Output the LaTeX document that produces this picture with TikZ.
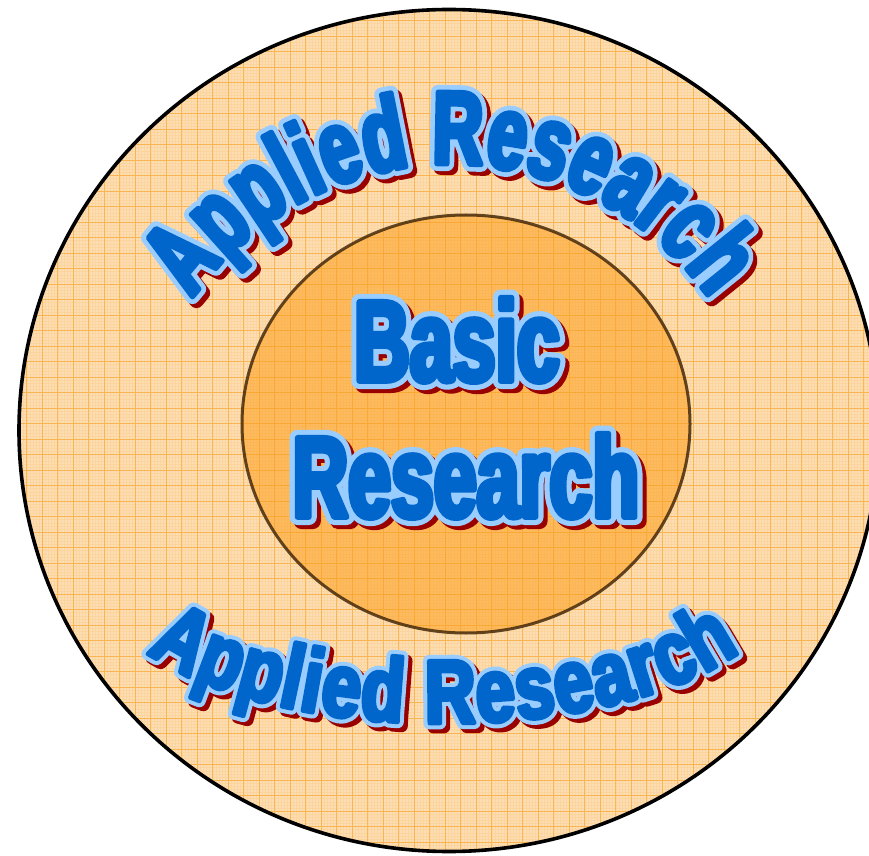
\documentclass[tikz,border=0pt]{standalone}
\usepackage{fontspec}
\usetikzlibrary{decorations.text}
\definecolor{wablue}{RGB}{0,102,204}
\definecolor{walight}{RGB}{153,204,255}
\definecolor{wared}{RGB}{153,0,0}
\definecolor{outerfill}{RGB}{253,222,180}
\definecolor{innerfill}{RGB}{253,186,95}
\definecolor{gridmaj}{RGB}{248,160,30}
\definecolor{innerline}{RGB}{70,42,10}
\newfontfamily\ctrFillF{Liberation Sans Bold}[FakeStretch=0.67,FakeBold=5]
\newfontfamily\ctrLineF{Liberation Sans Bold}[FakeStretch=0.67,FakeBold=14]
\newfontfamily\botFillF{Liberation Sans Bold}[FakeStretch=0.78,FakeBold=5]
\newfontfamily\botLineF{Liberation Sans Bold}[FakeStretch=0.78,FakeBold=14]
\newcommand\ctrFill{\pgfsetroundjoin\ctrFillF}
\newcommand\ctrLine{\pgfsetroundjoin\ctrLineF}
\newcommand\botFill{\pgfsetroundjoin\botFillF}
\newcommand\botLine{\pgfsetroundjoin\botLineF}
\tikzset{
  walayer/.style={anchor=base, inner sep=0pt, outer sep=0pt, line join=round},
  wbig/.style={font=#1\fontsize{115}{115}\selectfont},
  majorgrid/.style={draw=gridmaj, line width=0.9pt, opacity=0.6},
  minorgrid/.style={draw=gridmaj, line width=0.3pt, opacity=0.14},
  outerring/.style={draw=black, line width=3.6pt},
  innerring/.style={draw=innerline, line width=3pt, draw opacity=0.85},
  arctext/.style={decorate, line join=round},
}
\begin{document}
\begin{tikzpicture}[x=1pt,y=1pt]
\useasboundingbox (0,0) rectangle (869,855);
\clip (0,0) rectangle (869,855);
% fills and grid
\begin{scope}
  \clip (449,424.5) ellipse [x radius=430, y radius=421];
  \fill[outerfill] (0,0) rectangle (900,900);
  \fill[innerfill] (466,431) ellipse [x radius=224, y radius=209];
  \begin{scope}[shift={(11.2,13)}]
    \draw[minorgrid] (-31,-31) grid[step=3.1] (900,900);
    \draw[majorgrid] (-31,-31) grid[step=15.5] (900,900);
  \end{scope}
\end{scope}
\draw[outerring] (449,424.5) ellipse [x radius=430, y radius=421];
\draw[innerring] (466,431) ellipse [x radius=224, y radius=209];

% centre text
\node[walayer, wbig=\ctrLine, text=wared] (basicS) at (461,470) {Basic};
\node[walayer, wbig=\ctrLine, text=walight] (basicO) at (457,474) {Basic};
\node[walayer, wbig=\ctrFill, text=wablue] (basicF) at (457,474) {Basic};
\node[walayer, wbig=\ctrLine, text=wared] (resS) at (470,334) {Research};
\node[walayer, wbig=\ctrLine, text=walight] (resO) at (466,338) {Research};
\node[walayer, wbig=\ctrFill, text=wablue] (resF) at (466,338) {Research};

% top arc text
\path[arctext, shift={(4,-4)}, decoration={text along path, text align=fit to path,
  text color=wared, text={|\ctrLine\fontsize{104}{104}\selectfont|Applied Research}}]
  (451,375) ++(145:316) arc[start angle=145, end angle=35, radius=316];
\path[arctext, decoration={text along path, text align=fit to path,
  text color=walight, text={|\ctrLine\fontsize{104}{104}\selectfont|Applied Research}}]
  (451,375) ++(145:316) arc[start angle=145, end angle=35, radius=316];
\path[arctext, decoration={text along path, text align=fit to path,
  text color=wablue, text={|\ctrFill\fontsize{104}{104}\selectfont|Applied Research}}]
  (451,375) ++(145:316) arc[start angle=145, end angle=35, radius=316];

% bottom arc text
\path[arctext, shift={(4,-4)}, decoration={text along path, text align=fit to path,
  text color=wared, text={|\botLine\fontsize{90}{90}\selectfont|Applied Research}}]
  (443,272) ++(209.5:340 and 140) arc[start angle=209.5, end angle=330.9, x radius=340, y radius=140];
\path[arctext, decoration={text along path, text align=fit to path,
  text color=walight, text={|\botLine\fontsize{90}{90}\selectfont|Applied Research}}]
  (443,272) ++(209.5:340 and 140) arc[start angle=209.5, end angle=330.9, x radius=340, y radius=140];
\path[arctext, decoration={text along path, text align=fit to path,
  text color=wablue, text={|\botFill\fontsize{90}{90}\selectfont|Applied Research}}]
  (443,272) ++(209.5:340 and 140) arc[start angle=209.5, end angle=330.9, x radius=340, y radius=140];
\end{tikzpicture}
\end{document}
